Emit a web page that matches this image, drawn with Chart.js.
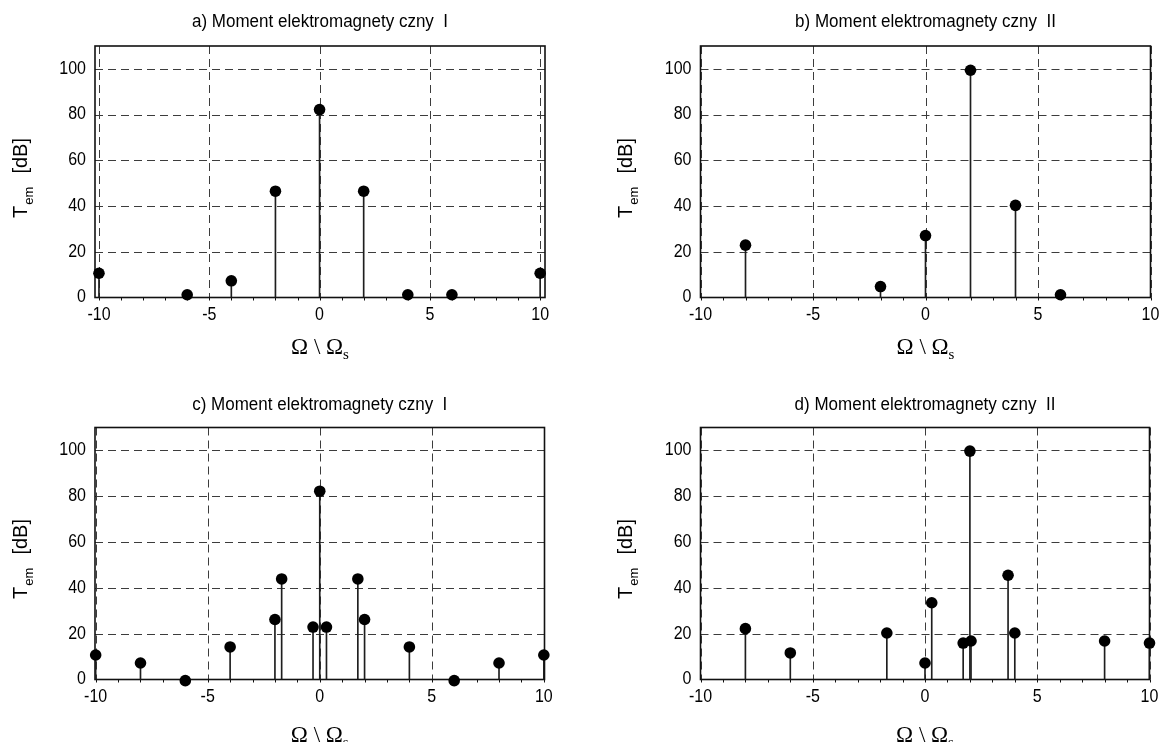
<!DOCTYPE html>
<html><head><meta charset="utf-8">
<script src="https://cdn.jsdelivr.net/npm/chart.js@4.4.1/dist/chart.umd.min.js"></script>
<style>
html,body{margin:0;padding:0;background:#fff;width:1161px;height:742px;overflow:hidden}
canvas{position:absolute}
</style></head>
<body>
<canvas id="ca" width="580" height="371" style="left:0;top:0"></canvas>
<canvas id="cb" width="581" height="371" style="left:580px;top:0"></canvas>
<canvas id="cc" width="580" height="371" style="left:0;top:371px"></canvas>
<canvas id="cd" width="581" height="371" style="left:580px;top:371px"></canvas>
<script>
// ---- data ----
const xTicks = [-10, -5, 0, 5, 10];
const xMinorTicks = [-10,-9,-8,-7,-6,-5,-4,-3,-2,-1,0,1,2,3,4,5,6,7,8,9,10];
const yTicks = [0, 20, 40, 60, 80, 100];
const titles = [
  "a) Moment elektromagnety czny  I",
  "b) Moment elektromagnety czny  II",
  "c) Moment elektromagnety czny  I",
  "d) Moment elektromagnety czny  II"
];
const xA = [-10, -6, -4, -2, 0, 2, 4, 6, 10];
const yA = [10.6, 1.2, 7.3, 46.5, 82.2, 46.5, 1.2, 1.2, 10.6];
const xB = [-8, -2, 0, 2, 4, 6];
const yB = [22.9, 4.8, 27.1, 99.4, 40.3, 1.2];
const xC = [-10, -8, -6, -4, -2, -1.7, -0.3, 0, 0.3, 1.7, 2, 4, 6, 8, 10];
const yC = [10.7, 7.2, -0.5, 14.2, 26.2, 43.9, 22.9, 82.2, 22.9, 43.9, 26.2, 14.2, -0.5, 7.2, 10.7];
const xD = [-8, -6, -1.7, 0, 0.3, 1.7, 2, 2.05, 3.7, 4, 8, 10];
const yD = [22.2, 11.6, 20.3, 7.2, 33.5, 15.9, 99.7, 16.8, 45.5, 20.3, 16.8, 15.9];

const SY = 1.1;
const SANS = '"Liberation Sans", Arial, sans-serif';
const SERIF = '"Liberation Serif", "Times New Roman", serif';

function sText(ctx, text, x, y, align, baseline, font, sy) {
  ctx.save();
  ctx.translate(x, y);
  ctx.scale(1, sy);
  ctx.font = font;
  ctx.textAlign = align;
  ctx.textBaseline = baseline;
  ctx.fillStyle = '#000';
  ctx.fillText(text, 0, 0);
  ctx.restore();
}

const deco = {
  id: 'deco',
  beforeDatasetsDraw(chart) {
    const {ctx, chartArea: a, scales: {x, y}} = chart;
    ctx.save();
    // dashed grid
    ctx.strokeStyle = '#3c3c3c';
    ctx.lineWidth = 1;
    ctx.setLineDash([8, 5]);
    xTicks.forEach(v => {
      const px = Math.round(x.getPixelForValue(v)) + 0.5;
      ctx.beginPath(); ctx.moveTo(px, a.top); ctx.lineTo(px, a.bottom); ctx.stroke();
    });
    yTicks.forEach(v => {
      if (v === 0) return;
      const py = Math.round(y.getPixelForValue(v)) + 0.5;
      ctx.beginPath(); ctx.moveTo(a.left, py); ctx.lineTo(a.right, py); ctx.stroke();
    });
    ctx.setLineDash([]);
    // frame
    ctx.strokeStyle = '#111';
    ctx.lineWidth = 1.6;
    ctx.strokeRect(a.left, a.top, a.right - a.left, a.bottom - a.top);
    // minor ticks on x axis (outward)
    ctx.lineWidth = 1;
    xMinorTicks.forEach(v => {
      const px = Math.round(x.getPixelForValue(v)) + 0.5;
      ctx.beginPath(); ctx.moveTo(px, a.bottom); ctx.lineTo(px, a.bottom + 3); ctx.stroke();
    });
    ctx.restore();
  },
  afterDraw(chart, args, o) {
    const {ctx, chartArea: a, scales: {x, y}} = chart;
    const tickFont = '16px ' + SANS;
    // tick labels
    xTicks.forEach(v => {
      sText(ctx, String(v), x.getPixelForValue(v), a.bottom + 18, 'center', 'middle', tickFont, SY);
    });
    yTicks.forEach(v => {
      sText(ctx, String(v), a.left - 9, y.getPixelForValue(v), 'right', 'middle', tickFont, SY);
    });
    // chart title
    sText(ctx, o.title, (a.left + a.right) / 2, o.titleY, 'center', 'middle', '17px ' + SANS, SY);
    // y axis title (rotated)
    ctx.save();
    ctx.translate(o.yTitleX, o.yTitleStart);
    ctx.rotate(-Math.PI / 2);
    ctx.fillStyle = '#000';
    ctx.textBaseline = 'alphabetic';
    ctx.textAlign = 'left';
    ctx.font = '20px ' + SANS;
    ctx.fillText('T', 0, 0);
    const wT = ctx.measureText('T').width;
    ctx.font = '13px ' + SANS;
    ctx.fillText('em', wT + 1, 6);
    ctx.font = '20px ' + SANS;
    ctx.textAlign = 'right';
    ctx.fillText('[dB]', o.yTitleLen, 0);
    ctx.restore();
    // x axis title
    ctx.save();
    ctx.fillStyle = '#000';
    ctx.textBaseline = 'alphabetic';
    ctx.font = '23px ' + SERIF;
    const main = '\u03A9 \\ \u03A9';
    const wm = ctx.measureText(main).width;
    ctx.font = '15px ' + SERIF;
    const ws = ctx.measureText('s').width;
    const x0 = (a.left + a.right) / 2 - (wm + ws) / 2;
    ctx.font = '23px ' + SERIF;
    ctx.textAlign = 'left';
    ctx.fillText(main, x0, o.xTitleBase);
    ctx.font = '15px ' + SERIF;
    ctx.fillText('s', x0 + wm, o.xTitleBase + 5);
    ctx.restore();
  }
};

function makeChart(id, xs, ys, g) {
  const el = document.getElementById(id);
  const W = el.width, H = el.height;
  const pts = xs.map((v, i) => ({x: v, y: ys[i]}));
  return new Chart(el, {
    type: 'scatter',
    data: {
      datasets: [
        { type: 'bar', data: pts, backgroundColor: '#1e1e1e', borderWidth: 0,
          barThickness: 1, grouped: false, order: 2 },
        { type: 'scatter', data: pts, backgroundColor: '#000', borderColor: '#000',
          borderWidth: 0, pointRadius: 5.8, pointHoverRadius: 5.8, clip: false, order: 1 }
      ]
    },
    options: {
      responsive: false, animation: false, devicePixelRatio: 1,
      events: [],
      layout: { padding: { left: 0, top: g.top, right: W - g.right, bottom: 0 } },
      plugins: {
        legend: { display: false }, tooltip: { enabled: false }, title: { display: false },
        deco: g
      },
      scales: {
        x: {
          type: 'linear', min: g.xmin, max: g.xmax, offset: false,
          grid: { display: false, offset: false }, border: { display: false },
          ticks: { display: false },
          afterBuildTicks: s => { s.ticks = xTicks.map(v => ({value: v})); },
          afterFit: s => { s.height = H - g.bottom; s.paddingLeft = 0; s.paddingRight = 0; }
        },
        y: {
          type: 'linear', min: 0, max: 110,
          grid: { display: false }, border: { display: false },
          ticks: { display: false },
          afterBuildTicks: s => { s.ticks = yTicks.map(v => ({value: v})); },
          afterFit: s => { s.width = g.left; s.paddingTop = 0; s.paddingBottom = 0; }
        }
      }
    },
    plugins: [deco]
  });
}

makeChart('ca', xA, yA, { left: 95, right: 545, top: 46, bottom: 297.5, xmin: -10.18, xmax: 10.22,
  title: titles[0], titleY: 22, yTitleX: 27, yTitleStart: 218, yTitleLen: 80, xTitleBase: 354 });
makeChart('cb', xB, yB, { left: 120.5, right: 570.5, top: 46, bottom: 297.5, xmin: -10, xmax: 10,
  title: titles[1], titleY: 22, yTitleX: 52, yTitleStart: 218, yTitleLen: 80, xTitleBase: 354 });
makeChart('cc', xC, yC, { left: 95, right: 544.5, top: 56.5, bottom: 308.5, xmin: -10.03, xmax: 10.03,
  title: titles[2], titleY: 34, yTitleX: 27, yTitleStart: 228, yTitleLen: 80, xTitleBase: 371 });
makeChart('cd', xD, yD, { left: 120.5, right: 569.5, top: 56.5, bottom: 308.5, xmin: -10, xmax: 10,
  title: titles[3], titleY: 34, yTitleX: 52, yTitleStart: 228, yTitleLen: 80, xTitleBase: 371 });
</script>
</body></html>
